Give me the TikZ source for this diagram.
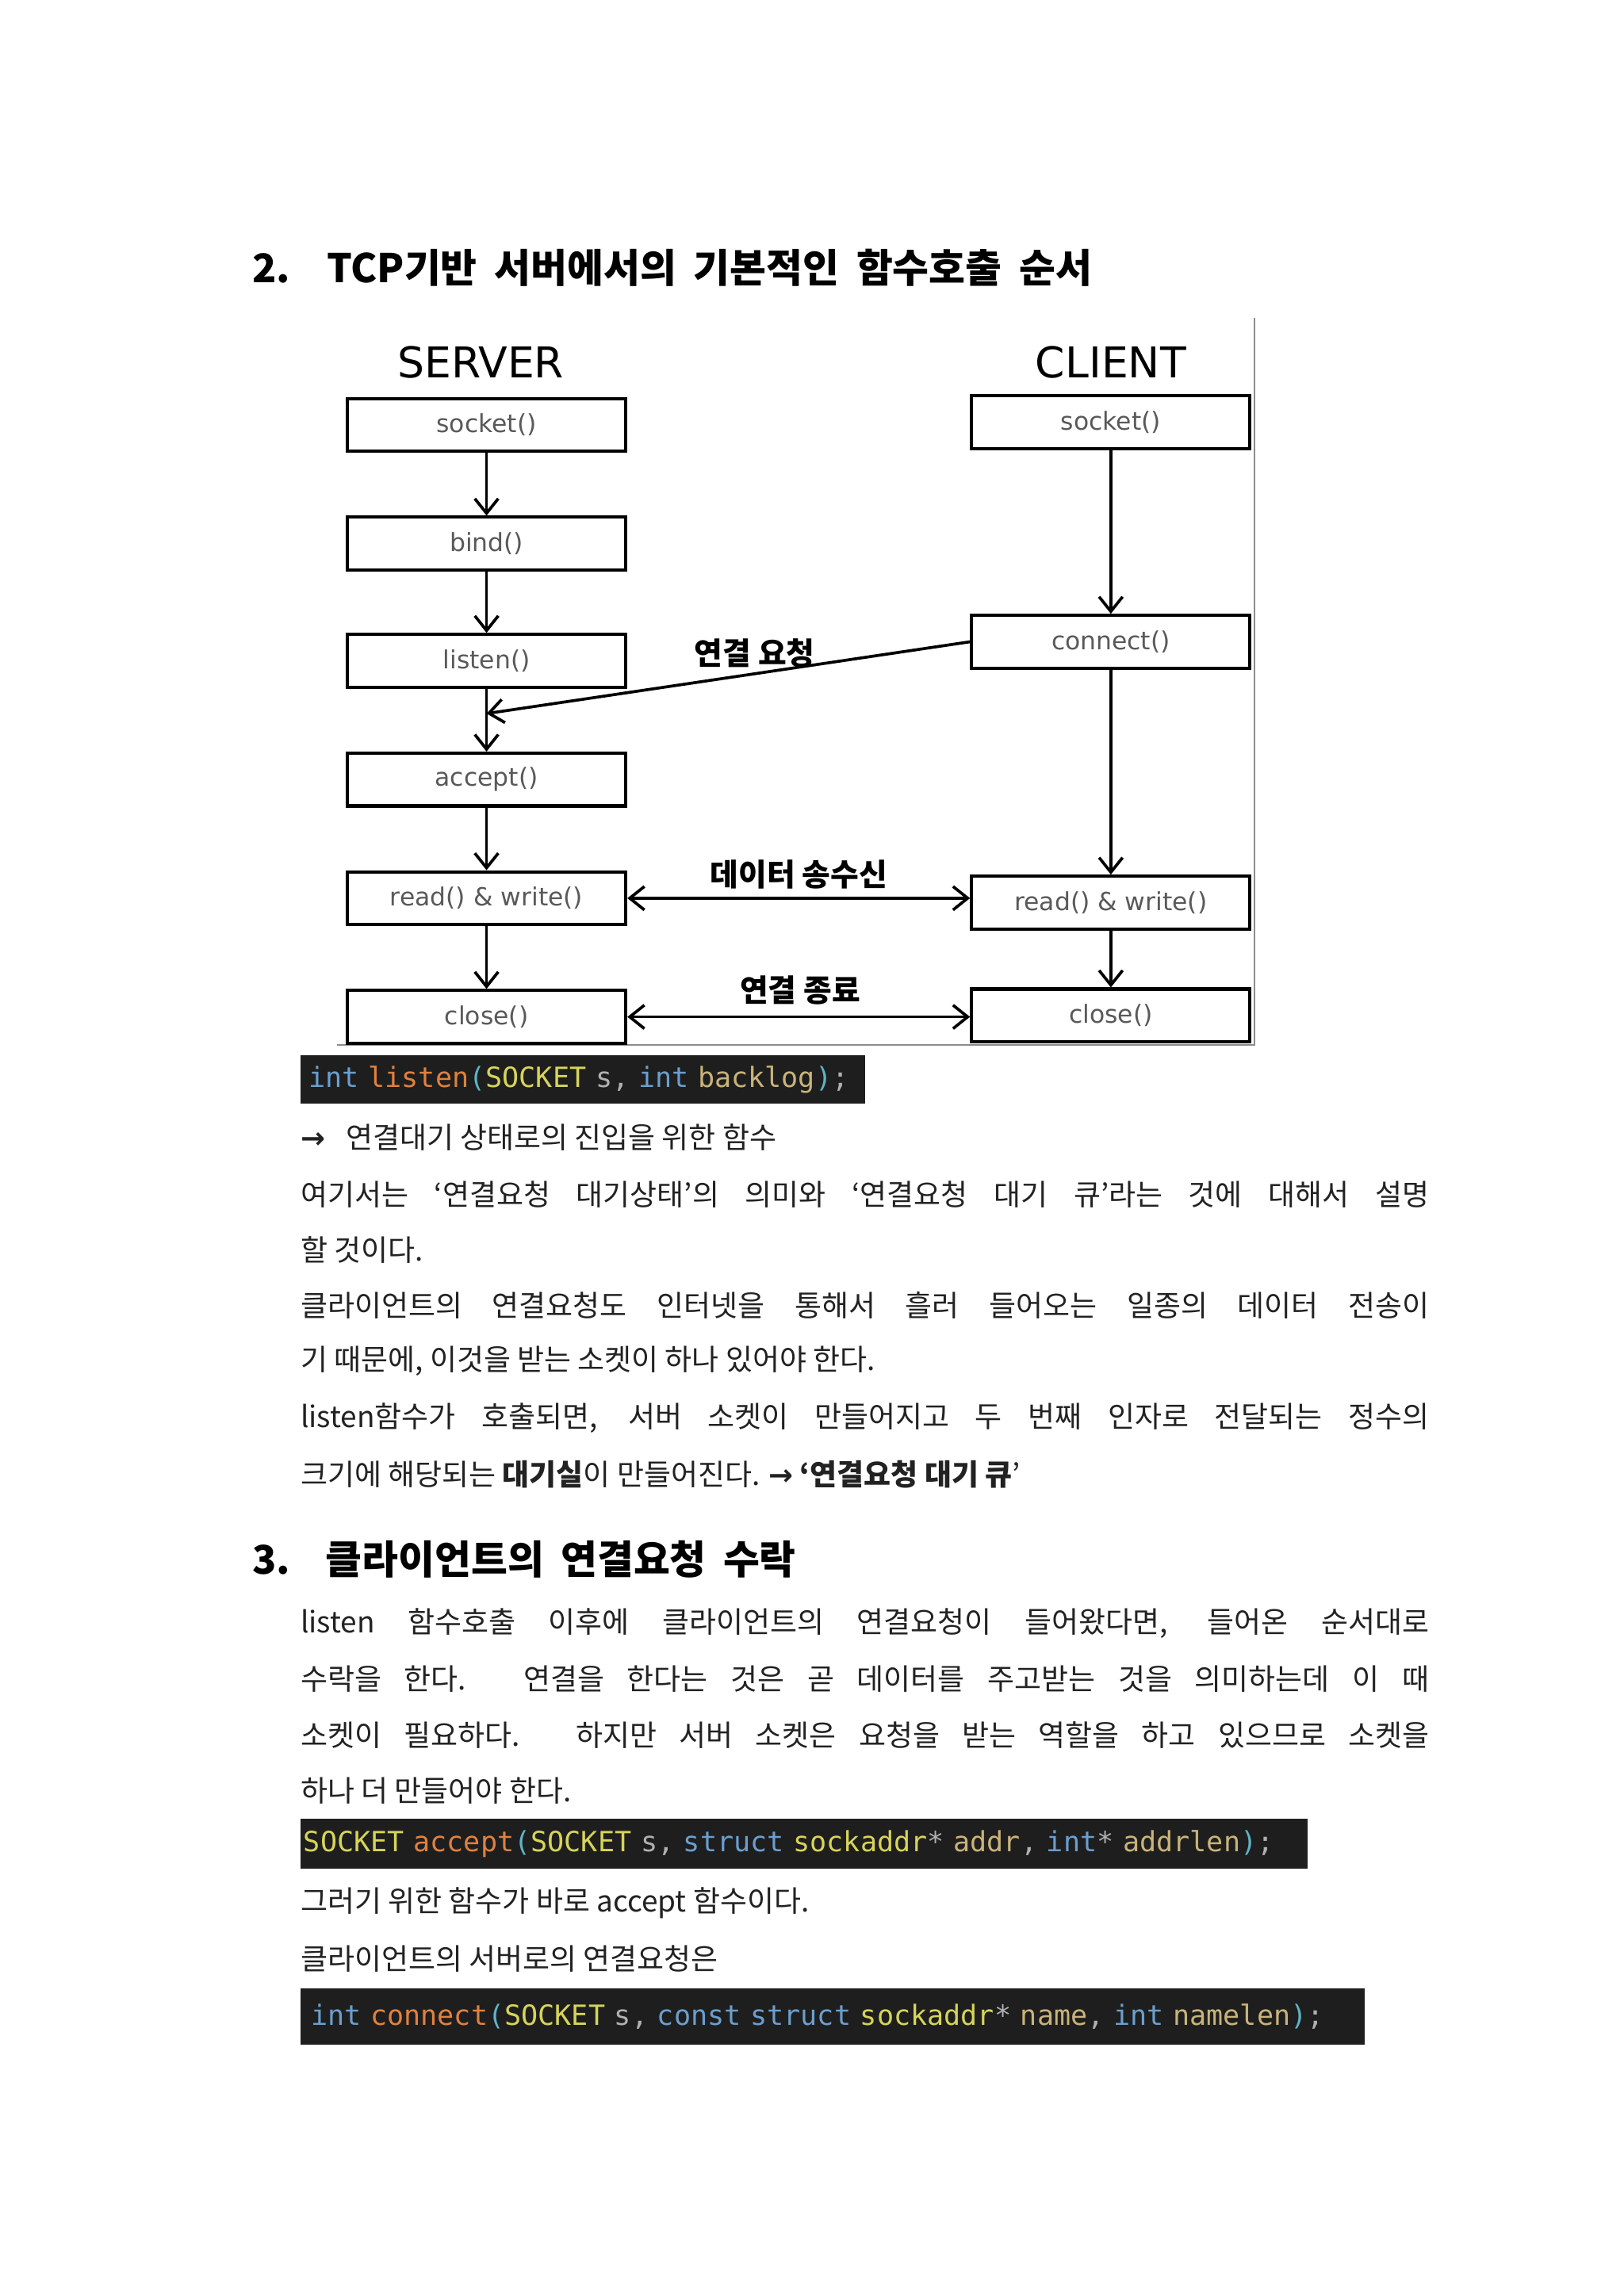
\documentclass[tikz,border=0pt]{standalone}
\usepackage{fontspec}
\setmainfont{Noto Sans CJK KR}
\setsansfont{DejaVu Sans}
\setmonofont{DejaVu Sans Mono}
\usetikzlibrary{arrows.meta}
\definecolor{cbg}{HTML}{1E1E1E}
\definecolor{ckw}{HTML}{6A9FCF}
\definecolor{cfn}{HTML}{E0813E}
\definecolor{cty}{HTML}{D6D45A}
\definecolor{cvar}{HTML}{B0B0B0}
\definecolor{cpar}{HTML}{C9B37A}
\definecolor{cbr}{HTML}{5FB3C6}
\definecolor{ctxt}{HTML}{222222}
\tikzset{
 fbox/.style={draw=black,line width=2.2pt,minimum width=190pt,minimum height=36pt,inner sep=0pt,font=\sffamily\fontsize{17}{17}\selectfont,text=black!65},
 arr/.style={-{Straight Barb[length=10pt,width=16pt]},line width=2pt},
 darr/.style={{Straight Barb[length=10pt,width=16pt]}-{Straight Barb[length=10pt,width=16pt]},line width=2pt},
 body/.style={anchor=west,inner sep=0pt,font=\fontsize{20}{20}\selectfont,text=ctxt},
 code/.style={fill=cbg,text=cvar,anchor=north west,inner sep=0pt,font=\ttfamily\fontsize{19}{19}\selectfont},
}
\newcommand{\cdK}[1]{\textcolor{ckw}{#1}}
\newcommand{\cdF}[1]{\textcolor{cfn}{#1}}
\newcommand{\cdT}[1]{\textcolor{cty}{#1}}
\newcommand{\cdV}[1]{\textcolor{cvar}{#1}}
\newcommand{\cdP}[1]{\textcolor{cpar}{#1}}
\newcommand{\cdB}[1]{\textcolor{cbr}{#1}}
\newcommand{\jline}[1]{\makebox[770pt][s]{#1}}
\begin{document}
\begin{tikzpicture}[x=1pt,y=-1pt]
\useasboundingbox[fill=white] (0,0) rectangle (1108,1567);
\node[anchor=west,inner sep=0pt,font=\bfseries\fontsize{27}{27}\selectfont] (t1) at (172,183) {\makebox[573pt][s]{2. TCP기반 서버에서의 기본적인 함수호출 순서}};
% diagram frame
\draw[black!45,line width=1.2pt] (856,217) -- (856,713) -- (230,713);
\node[font=\sffamily\fontsize{29}{29}\selectfont] (srv) at (328,247) {SERVER};
\node[font=\sffamily\fontsize{29}{29}\selectfont] (cli) at (758,247) {CLIENT};
\node[fbox] (s1) at (332,290) {socket()};
\node[fbox] (s2) at (332,371) {bind()};
\node[fbox] (s3) at (332,451) {listen()};
\node[fbox] (s4) at (332,532) {accept()};
\node[fbox] (s5) at (332,613) {read() \& write()};
\node[fbox] (s6) at (332,694) {close()};
\node[fbox] (c1) at (758,288) {socket()};
\node[fbox] (c2) at (758,438) {connect()};
\node[fbox] (c3) at (758,616) {read() \& write()};
\node[fbox] (c4) at (758,693) {close()};
\draw[arr] (s1) -- (s2);
\draw[arr] (s2) -- (s3);
\draw[arr] (s3) -- (s4);
\draw[arr] (s4) -- (s5);
\draw[arr] (s5) -- (s6);
\draw[arr] (c1) -- (c2);
\draw[arr] (c2) -- (c3);
\draw[arr] (c3) -- (c4);
\coordinate (jn) at (332,487);
\draw[arr] (c2.west) -- (jn);
\node[font=\bfseries\fontsize{21}{21}\selectfont] (l1) at (515,446) {연결 요청};
\draw[darr] (s5.east) -- (s5.east -| c3.west);
\node[font=\bfseries\fontsize{21}{21}\selectfont] (l2) at (545,597) {데이터 송수신};
\draw[darr] (s6.east) -- (s6.east -| c4.west);
\node[font=\bfseries\fontsize{21}{21}\selectfont] (l3) at (546,676) {연결 종료};
% code 1
\node[code,minimum width=385pt,minimum height=33pt,text width=380pt,align=left] (k1) at (205,720) {\hspace*{3pt}\cdK{int} \cdF{listen}\cdB{(}\cdT{SOCKET} \cdV{s}, \cdK{int} \cdP{backlog}\cdB{)};};
\node[body] (b1) at (205,776) {\textsf{\bfseries →}\hspace{14pt}연결대기 상태로의 진입을 위한 함수};
\node[body] (b2) at (205,815) {\jline{여기서는 ‘연결요청 대기상태’의 의미와 ‘연결요청 대기 큐’라는 것에 대해서 설명}};
\node[body] (b3) at (205,853) {할 것이다.};
\node[body] (b4) at (205,891) {\jline{클라이언트의 연결요청도 인터넷을 통해서 흘러 들어오는 일종의 데이터 전송이}};
\node[body] (b5) at (205,929) {기 때문에, 이것을 받는 소켓이 하나 있어야 한다.};
\node[body] (b6) at (205,968) {\jline{listen함수가 호출되면, 서버 소켓이 만들어지고 두 번째 인자로 전달되는 정수의}};
\node[body] (b7) at (205,1006) {크기에 해당되는 \textbf{대기실}이 만들어진다. \textsf{\bfseries →} \textbf{‘연결요청 대기 큐}’};
\node[anchor=west,inner sep=0pt,font=\bfseries\fontsize{27}{27}\selectfont] (t2) at (172,1064) {\makebox[371pt][s]{3. 클라이언트의 연결요청 수락}};
\node[body] (b8) at (205,1108) {\jline{listen 함수호출 이후에 클라이언트의 연결요청이 들어왔다면, 들어온 순서대로}};
\node[body] (b9) at (205,1146) {\jline{수락을 한다. 연결을 한다는 것은 곧 데이터를 주고받는 것을 의미하는데 이 때}};
\node[body] (b10) at (205,1184) {\jline{소켓이 필요하다. 하지만 서버 소켓은 요청을 받는 역할을 하고 있으므로 소켓을}};
\node[body] (b11) at (205,1222) {하나 더 만들어야 한다.};
\node[code,minimum width=687pt,minimum height=34pt,text width=685pt,align=left] (k2) at (205,1241) {\hspace*{1pt}\cdT{SOCKET} \cdF{accept}\cdB{(}\cdT{SOCKET} \cdV{s}, \cdK{struct} \cdT{sockaddr}\cdV{*} \cdP{addr}, \cdK{int}\cdV{*} \cdP{addrlen}\cdB{)};};
\node[body] (b12) at (205,1299) {그러기 위한 함수가 바로 accept 함수이다.};
\node[body] (b13) at (205,1337) {클라이언트의 서버로의 연결요청은};
\node[code,minimum width=726pt,minimum height=38pt,text width=720pt,align=left] (k3) at (205,1357) {\hspace*{4pt}\cdK{int} \cdF{connect}\cdB{(}\cdT{SOCKET} \cdV{s}, \cdK{const} \cdK{struct} \cdT{sockaddr}\cdV{*} \cdP{name}, \cdK{int} \cdP{namelen}\cdB{)};};
\end{tikzpicture}
\end{document}
